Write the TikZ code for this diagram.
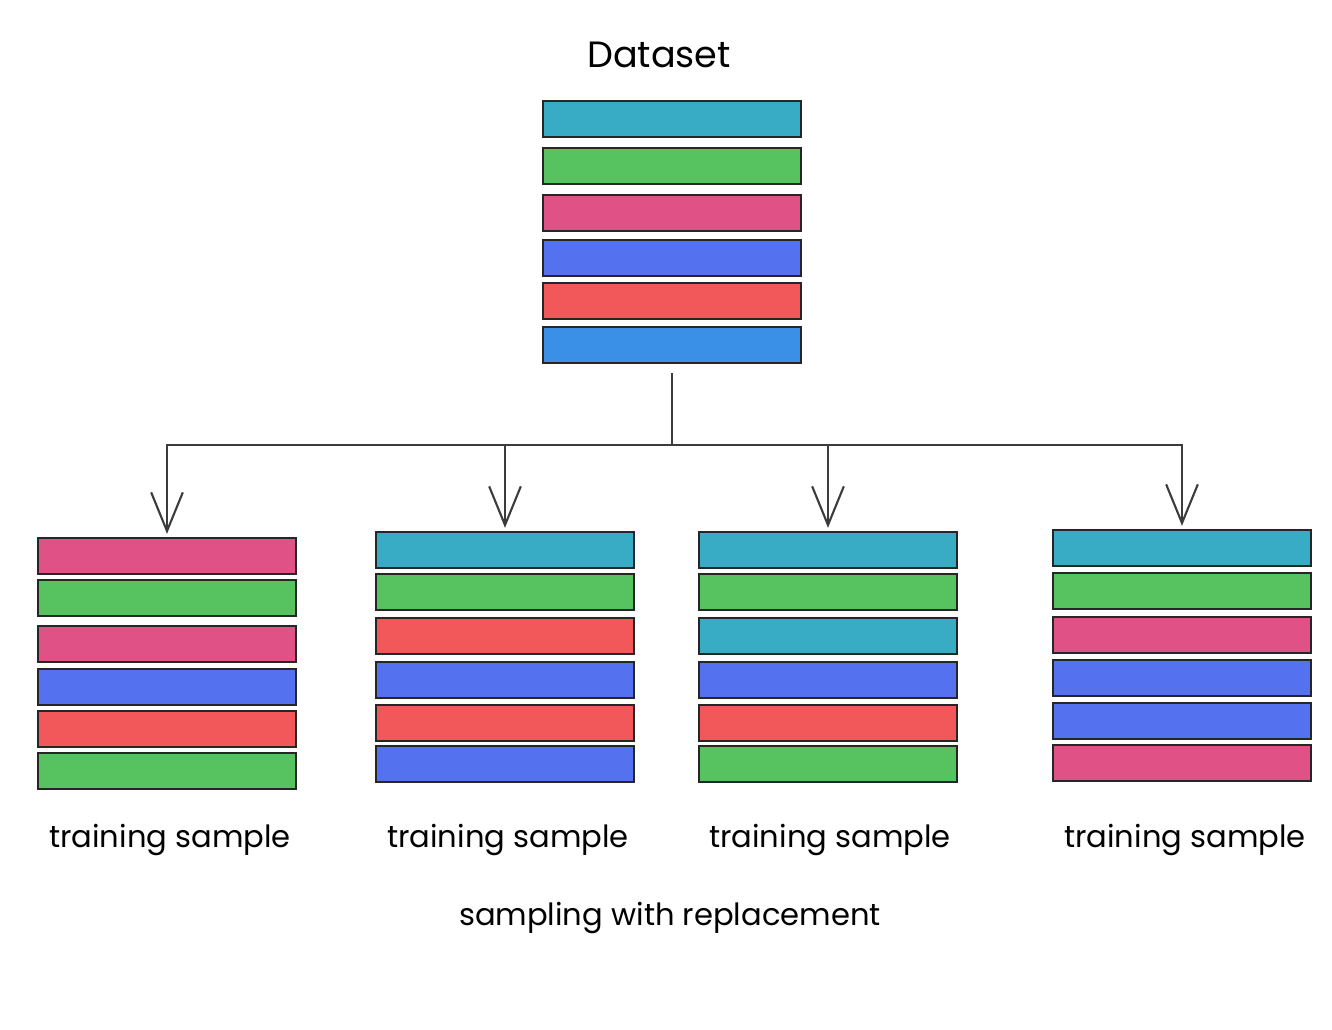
\documentclass[tikz,border=0pt]{standalone}
\usepackage{fontspec}
\setmainfont{Poppins}
\usetikzlibrary{arrows.meta}
\definecolor{barteal}{RGB}{56,172,196}
\definecolor{bargreen}{RGB}{86,194,96}
\definecolor{barpink}{RGB}{224,82,134}
\definecolor{barblue}{RGB}{84,114,240}
\definecolor{barred}{RGB}{242,88,90}
\definecolor{barsky}{RGB}{58,143,230}
\definecolor{wiregray}{RGB}{60,60,60}

\begin{document}
\begin{tikzpicture}[x=0.01cm,y=-0.01cm,
  bar/.style={fill=#1,draw=black!85,line width=0.65pt,minimum width=2.58cm,minimum height=0.36cm,inner sep=0pt},
  lbl/.style={font=\fontsize{8.7}{10}\selectfont},
  wire/.style={draw=wiregray,line width=0.6pt},
  tip/.style={-{Straight Barb[length=11pt,width=9pt,line width=0.6pt]}}]
  \fill[white] (0,0) rectangle (1332,1030);
  \useasboundingbox (0,0) rectangle (1332,1030);
  % dataset stack
  \node[font=\fontsize{10.4}{12}\selectfont] (dtitle) at (659,55) {Dataset};
  \foreach \i/\y/\c in {1/119/barteal,2/166/bargreen,3/213/barpink,4/258/barblue,5/301/barred,6/345/barsky}
    \node[bar=\c] (d\i) at (672,\y) {};
  % training samples
  \foreach \i/\y/\c in {1/556/barpink,2/598/bargreen,3/644/barpink,4/687/barblue,5/729/barred,6/771/bargreen}
    \node[bar=\c] (s1-\i) at (167,\y) {};
  \foreach \i/\y/\c in {1/550/barteal,2/592/bargreen,3/636/barred,4/680/barblue,5/723/barred,6/764/barblue}
    \node[bar=\c] (s2-\i) at (505,\y) {};
  \foreach \i/\y/\c in {1/550/barteal,2/592/bargreen,3/636/barteal,4/680/barblue,5/723/barred,6/764/bargreen}
    \node[bar=\c] (s3-\i) at (828,\y) {};
  \foreach \i/\y/\c in {1/548/barteal,2/591/bargreen,3/635/barpink,4/678/barblue,5/721/barblue,6/763/barpink}
    \node[bar=\c] (s4-\i) at (1182,\y) {};
  % split into the samples
  \coordinate (split) at (672,445);
  \draw[wire,shorten <=0.09cm] (d6.south) -- (split);
  \foreach \k in {1,...,4}
    \draw[wire,tip,shorten >=0.03cm] (split) -| (s\k-1.north);
  % labels
  \foreach \k/\x in {1/170,2/508,3/830,4/1185}
    \node[lbl] (lab\k) at (\x,840) {training sample};
  \node[lbl] (caption) at (670,918) {sampling with replacement};
\end{tikzpicture}
\end{document}
